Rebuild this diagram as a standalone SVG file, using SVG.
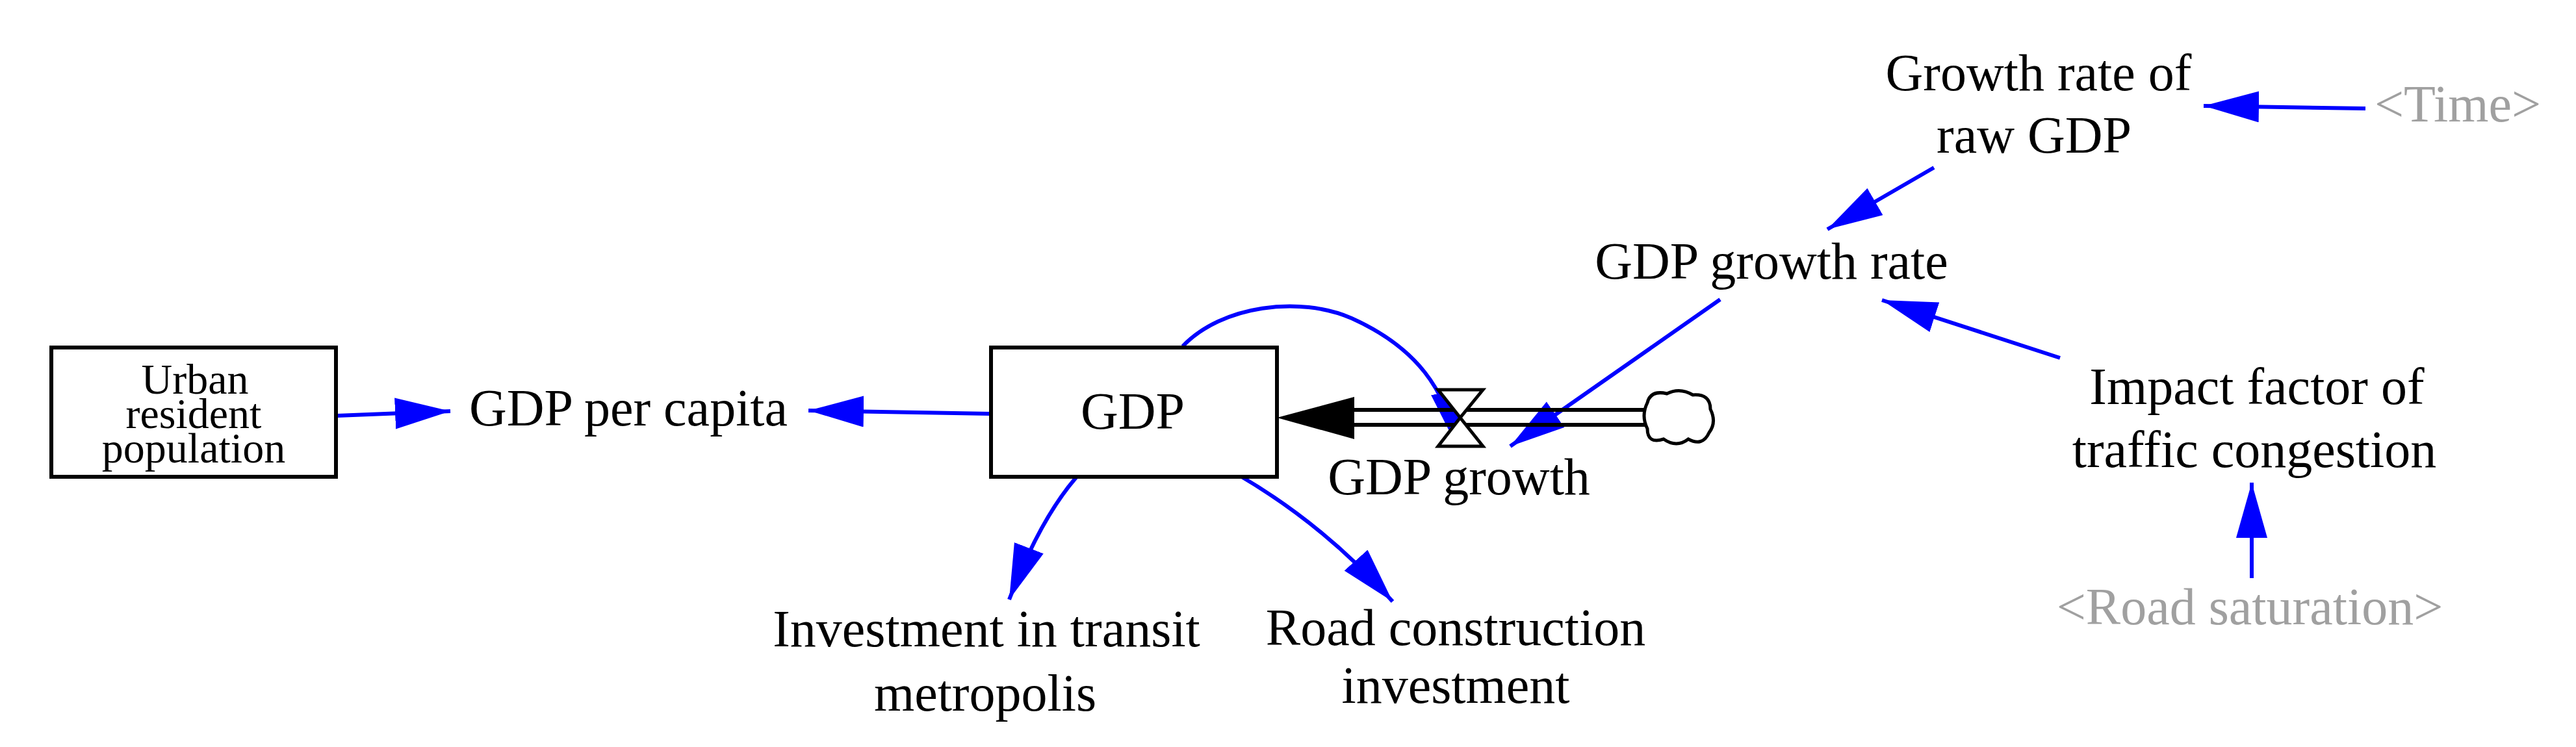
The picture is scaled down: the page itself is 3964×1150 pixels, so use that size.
<svg xmlns="http://www.w3.org/2000/svg" width="3964" height="1150" viewBox="0 0 3964 1150">
<style>
text{font-family:"Liberation Serif","Times New Roman",serif;font-size:80px;fill:#000;text-anchor:middle}
.g{fill:#a0a0a0}
.s{font-size:66px}
.lk{fill:none;stroke:#0000ff;stroke-width:6;marker-end:url(#ah)}
.box{fill:#fff;stroke:#000;stroke-width:6}
</style>
<defs>
<marker id="ah" markerUnits="userSpaceOnUse" markerWidth="90" markerHeight="50" refX="85" refY="24" orient="auto" viewBox="0 0 90 50">
<path d="M0,0 L85,24 L0,48 z" fill="#0000ff"/>
</marker>
</defs>
<rect width="3964" height="1150" fill="#fff"/>
<g id="connectors">
<path class="lk" d="M518,640 L693,633"/>
<path class="lk" d="M1525,637 L1244,632"/>
<path class="lk" d="M1656,735 Q1600,800 1553,923"/>
<path class="lk" d="M1909,733 Q2040,810 2143,926"/>
<path class="lk" d="M1820,533 C1880,470 2000,455 2080,490 C2180,535 2225,600 2242,687"/>
<path class="lk" d="M3640,167 L3391,163"/>
<path class="lk" d="M2976,258 L2812,353"/>
<path class="lk" d="M2647,461 L2324,687"/>
<path class="lk" d="M3170,551 L2896,462"/>
<path class="lk" d="M3465,890 L3465,743"/>
</g>
<g id="flow">
<line x1="2084" y1="631" x2="2535" y2="631" stroke="#000" stroke-width="6"/>
<line x1="2084" y1="654" x2="2535" y2="654" stroke="#000" stroke-width="6"/>
<polygon points="1965,643 2084,611 2084,676" fill="#000"/>
<polygon points="2213,600 2282,600 2247,643 2282,687 2213,687 2247,643" fill="#fff" stroke="#000" stroke-width="5"/>
<path d="M2535,620 Q2540,600 2565,606 Q2585,596 2605,608 Q2632,606 2632,630 Q2642,650 2630,666 Q2620,688 2598,676 Q2580,690 2560,676 Q2535,684 2535,660 Q2525,640 2535,620 z" fill="#fff" stroke="#000" stroke-width="5"/>
<text x="2245" y="761">GDP growth</text>
</g>
<g id="urban">
<rect class="box" x="79" y="535" width="438" height="199"/>
<text class="s" x="300" y="606">Urban</text>
<text class="s" x="298" y="659">resident</text>
<text class="s" x="298" y="712">population</text>
</g>
<g id="gdp">
<rect class="box" x="1525" y="535" width="440" height="199"/>
<text x="1743" y="660">GDP</text>
</g>
<g id="gdppc"><text x="967" y="655">GDP per capita</text></g>
<g id="invest"><text x="1518" y="995">Investment in transit</text><text x="1516" y="1094">metropolis</text></g>
<g id="road"><text x="2240" y="993">Road construction</text><text x="2240" y="1082">investment</text></g>
<g id="gdprate"><text x="2726" y="429">GDP growth rate</text></g>
<g id="raw"><text x="3137" y="139">Growth rate of</text><text x="3130" y="235">raw GDP</text></g>
<g id="time"><text class="g" x="3782" y="187">&lt;Time&gt;</text></g>
<g id="impact"><text x="3473" y="622">Impact factor of</text><text x="3469" y="719">traffic congestion</text></g>
<g id="roadsat"><text class="g" x="3462" y="961">&lt;Road saturation&gt;</text></g>
</svg>
